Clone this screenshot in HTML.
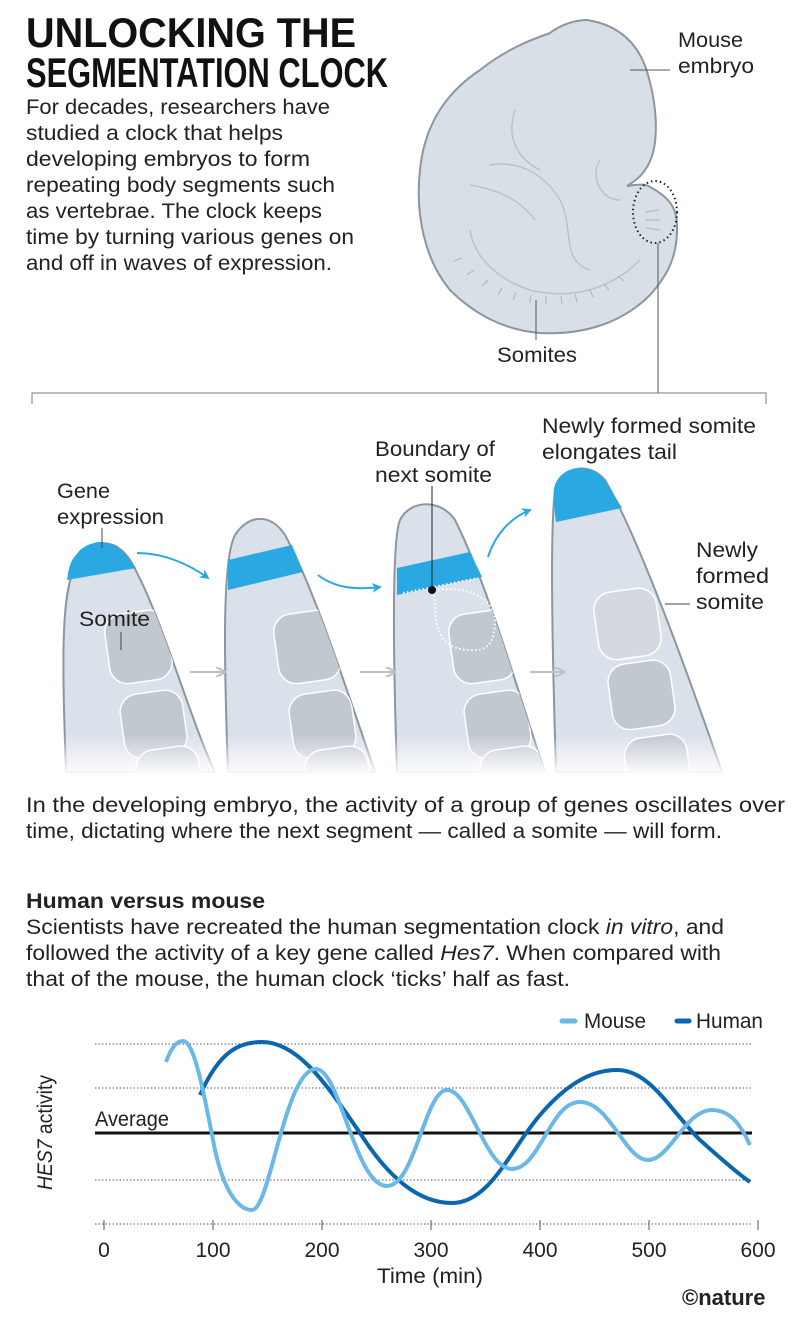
<!DOCTYPE html>
<html><head><meta charset="utf-8"><style>
html,body{margin:0;padding:0;background:#fff;}
svg{display:block;}
text{font-family:"Liberation Sans",sans-serif;fill:#222;}
.t{font-size:21px;}
.ti{font-family:"Liberation Sans Narrow","Liberation Sans",sans-serif;font-weight:bold;font-size:42px;fill:#111;}
</style></head><body>
<svg width="800" height="1322" viewBox="0 0 800 1322" xmlns="http://www.w3.org/2000/svg">
<defs>
<linearGradient id="fade" x1="0" y1="0" x2="0" y2="1">
<stop offset="0" stop-color="#fff" stop-opacity="0"/><stop offset="1" stop-color="#fff" stop-opacity="1"/>
</linearGradient>
<marker id="ab" viewBox="0 0 10 10" refX="8" refY="5" markerWidth="5" markerHeight="5" orient="auto"><path d="M0,0 L10,5 L0,10 L3,5Z" fill="#29a8e0"/></marker>
<marker id="ag" viewBox="0 0 10 10" refX="8" refY="5" markerWidth="5" markerHeight="5" orient="auto"><path d="M0,0 L10,5 L0,10" fill="none" stroke="#b8c0c8" stroke-width="2"/></marker>
<path id="f1" d="M66,772 C62,660 60,580 80,560 C95,538 115,538 130,560 C160,610 190,720 215,772 Z"/>
<path id="f2" d="M228,772 C224,660 222,560 235,535 C248,515 270,512 285,535 C315,590 350,700 375,772 Z"/>
<path id="f3" d="M397,772 C393,650 392,540 400,520 C410,500 440,498 455,520 C490,590 520,700 545,772 Z"/>
<path id="f4" d="M556,772 C552,640 550,530 555,490 C562,465 590,462 605,480 C640,540 690,680 722,772 Z"/>
<clipPath id="c1"><use href="#f1"/></clipPath>
<clipPath id="c2"><use href="#f2"/></clipPath>
<clipPath id="c3"><use href="#f3"/></clipPath>
<clipPath id="c4"><use href="#f4"/></clipPath>
</defs>
<text class="ti" x="26" y="47" textLength="330" lengthAdjust="spacingAndGlyphs">UNLOCKING THE</text>
<text class="ti" x="26" y="87" textLength="362" lengthAdjust="spacingAndGlyphs">SEGMENTATION CLOCK</text>
<text class="t" x="26" y="114" textLength="304" lengthAdjust="spacingAndGlyphs">For decades, researchers have</text>
<text class="t" x="26" y="140" textLength="257" lengthAdjust="spacingAndGlyphs">studied a clock that helps</text>
<text class="t" x="26" y="166" textLength="284" lengthAdjust="spacingAndGlyphs">developing embryos to form</text>
<text class="t" x="26" y="192" textLength="309" lengthAdjust="spacingAndGlyphs">repeating body segments such</text>
<text class="t" x="26" y="218" textLength="296" lengthAdjust="spacingAndGlyphs">as vertebrae. The clock keeps</text>
<text class="t" x="26" y="244" textLength="328" lengthAdjust="spacingAndGlyphs">time by turning various genes on</text>
<text class="t" x="26" y="270" textLength="306" lengthAdjust="spacingAndGlyphs">and off in waves of expression.</text>
<!-- Embryo -->
<path d="M587,20 C620,25 640,45 648,75 C658,110 660,150 645,170 C640,178 632,183 627,186 C635,185 645,183 650,187 C665,195 677,205 677,225 C678,255 668,275 650,295 C620,325 580,335 540,333 C500,330 470,310 450,290 C425,260 415,215 420,170 C425,120 450,90 480,70 C505,50 530,40 550,33 C560,25 575,20 587,20 Z" fill="#d9dfe7" stroke="#8c96a0" stroke-width="2"/>
<g fill="none" stroke="#b9c2cc" stroke-width="1.5">
<path d="M515,110 C505,140 520,160 540,170"/><path d="M490,165 C520,160 545,175 560,200 C575,230 560,260 590,270"/>
<path d="M470,185 C500,190 520,200 535,220"/><path d="M600,160 C590,175 600,200 620,200"/>
<path d="M470,230 C475,260 500,280 530,290 C570,300 610,290 640,260"/>
</g>
<g stroke="#aab3bd" stroke-width="1">
<path d="M462,258 l-8,3 M474,270 l-7,5 M488,280 l-6,6 M502,288 l-4,7 M516,292 l-3,8 M531,295 l-1,8 M546,296 l0,8 M561,296 l1,8 M575,294 l2,8 M590,290 l3,7 M604,284 l5,6 M618,276 l6,5 M645,212 l14,-2 M645,220 l15,0 M646,228 l14,2"/>
</g>
<ellipse cx="655" cy="212" rx="22" ry="31" fill="none" stroke="#222" stroke-width="2" stroke-dasharray="1.5 3"/>
<line x1="630" y1="70" x2="670" y2="70" stroke="#555" stroke-width="1"/>
<text class="t" x="678" y="47" textLength="65" lengthAdjust="spacingAndGlyphs">Mouse</text>
<text class="t" x="678" y="73" textLength="76" lengthAdjust="spacingAndGlyphs">embryo</text>
<line x1="536" y1="300" x2="536" y2="340" stroke="#555" stroke-width="1"/>
<text class="t" x="497" y="362" textLength="80" lengthAdjust="spacingAndGlyphs">Somites</text>
<line x1="658" y1="243" x2="658" y2="393" stroke="#555" stroke-width="1"/>
<path d="M32,404 V393 H766 V404" fill="none" stroke="#777" stroke-width="1"/>
<g stroke="#8c96a0" stroke-width="2" fill="#dbe1ea">
<use href="#f1"/><use href="#f2"/><use href="#f3"/><use href="#f4"/>
</g>
<path d="M67,580 C70,560 72,560 80,550 C95,538 115,538 130,560 L136,568 Z" fill="#2aa8e2"/>
<path d="M228,560 L292,545 L303,572 L228,590 Z" fill="#2aa8e2"/>
<path d="M397,568 L470,552 L482,577 L397,595 Z" fill="#2aa8e2"/>
<path d="M556,522 C553,500 553,490 555,485 C562,465 590,462 605,480 L622,508 Z" fill="#2aa8e2"/>
<g fill="#c1c8d0" stroke="#fff" stroke-width="1.5">
<g clip-path="url(#c1)">
<rect x="107" y="612" width="63" height="70" rx="18" transform="rotate(-8 138 647)"/>
<rect x="122" y="692" width="63" height="65" rx="18" transform="rotate(-8 153 724)"/>
<rect x="137" y="748" width="63" height="50" rx="18" transform="rotate(-8 168 773)"/>
</g>
<g clip-path="url(#c2)">
<rect x="276" y="612" width="63" height="70" rx="18" transform="rotate(-8 307 647)"/>
<rect x="291" y="692" width="63" height="65" rx="18" transform="rotate(-8 322 724)"/>
<rect x="306" y="748" width="63" height="50" rx="18" transform="rotate(-8 337 773)"/>
</g>
<g clip-path="url(#c3)">
<rect x="451" y="612" width="63" height="70" rx="18" transform="rotate(-8 482 647)"/>
<rect x="466" y="692" width="63" height="65" rx="18" transform="rotate(-8 497 724)"/>
<rect x="481" y="748" width="63" height="50" rx="18" transform="rotate(-8 512 773)"/>
</g>
<g clip-path="url(#c4)">
<rect x="596" y="590" width="63" height="68" rx="18" fill="#d4d9df" transform="rotate(-8 627 624)"/>
<rect x="610" y="662" width="63" height="66" rx="18" transform="rotate(-8 641 695)"/>
<rect x="626" y="736" width="63" height="60" rx="18" transform="rotate(-8 657 766)"/>
</g>
</g>
<path d="M403,593 L478,578 M434,590 C470,585 495,600 495,620 C495,640 490,652 470,650 C450,650 440,640 436,620 Z" fill="none" stroke="#fff" stroke-width="2" stroke-dasharray="1.5 2.5"/>
<rect x="40" y="735" width="720" height="41" fill="url(#fade)"/>
<g fill="none" stroke="#29a8e0" stroke-width="2">
<path d="M137,553 C165,553 190,565 208,578" marker-end="url(#ab)"/>
<path d="M318,575 C335,588 355,590 380,587" marker-end="url(#ab)"/>
<path d="M488,557 C495,535 510,518 530,510" marker-end="url(#ab)"/>
</g>
<g stroke="#b8c0c8" stroke-width="2" fill="none">
<path d="M190,672 H224" marker-end="url(#ag)"/><path d="M360,672 H394" marker-end="url(#ag)"/><path d="M530,672 H563" marker-end="url(#ag)"/>
</g>
<line x1="102" y1="528" x2="102" y2="548" stroke="#444" stroke-width="1"/>
<text class="t" x="57" y="498" textLength="53" lengthAdjust="spacingAndGlyphs">Gene</text><text class="t" x="57" y="524" textLength="107" lengthAdjust="spacingAndGlyphs">expression</text>
<text class="t" x="79" y="626" textLength="71" lengthAdjust="spacingAndGlyphs">Somite</text>
<line x1="121" y1="632" x2="121" y2="650" stroke="#444" stroke-width="1"/>
<line x1="432" y1="486" x2="432" y2="590" stroke="#222" stroke-width="1"/>
<circle cx="432" cy="590" r="4" fill="#111"/>
<text class="t" x="375" y="456" textLength="120" lengthAdjust="spacingAndGlyphs">Boundary of</text><text class="t" x="375" y="482" textLength="117" lengthAdjust="spacingAndGlyphs">next somite</text>
<text class="t" x="542" y="433" textLength="214" lengthAdjust="spacingAndGlyphs">Newly formed somite</text><text class="t" x="542" y="459" textLength="135" lengthAdjust="spacingAndGlyphs">elongates tail</text>
<text class="t" x="696" y="557" textLength="62" lengthAdjust="spacingAndGlyphs">Newly</text><text class="t" x="696" y="583" textLength="73" lengthAdjust="spacingAndGlyphs">formed</text><text class="t" x="696" y="609" textLength="68" lengthAdjust="spacingAndGlyphs">somite</text>
<line x1="665" y1="604" x2="690" y2="604" stroke="#444" stroke-width="1"/>
<text class="t" x="26" y="812" textLength="759" lengthAdjust="spacingAndGlyphs">In the developing embryo, the activity of a group of genes oscillates over</text>
<text class="t" x="26" y="838" textLength="696" lengthAdjust="spacingAndGlyphs">time, dictating where the next segment — called a somite — will form.</text>
<text class="t" x="26" y="908" font-weight="bold" textLength="239" lengthAdjust="spacingAndGlyphs">Human versus mouse</text>
<text class="t" x="26" y="934" textLength="698" lengthAdjust="spacingAndGlyphs">Scientists have recreated the human segmentation clock <tspan font-style="italic">in vitro</tspan>, and</text>
<text class="t" x="26" y="960" textLength="695" lengthAdjust="spacingAndGlyphs">followed the activity of a key gene called <tspan font-style="italic">Hes7</tspan>. When compared with</text>
<text class="t" x="26" y="986" textLength="544" lengthAdjust="spacingAndGlyphs">that of the mouse, the human clock ‘ticks’ half as fast.</text>
<line x1="562" y1="1021" x2="575" y2="1021" stroke="#6bb7e6" stroke-width="5" stroke-linecap="round"/>
<text class="t" x="584" y="1028" textLength="62" lengthAdjust="spacingAndGlyphs">Mouse</text>
<line x1="677" y1="1021" x2="689" y2="1021" stroke="#0a66b0" stroke-width="5" stroke-linecap="round"/>
<text class="t" x="696" y="1028" textLength="67" lengthAdjust="spacingAndGlyphs">Human</text>
<g stroke="#555" stroke-width="1" stroke-dasharray="1.5 2">
<line x1="95" y1="1044" x2="752" y2="1044"/><line x1="95" y1="1088" x2="752" y2="1088"/>
<line x1="95" y1="1180" x2="752" y2="1180"/><line x1="95" y1="1224" x2="752" y2="1224"/>
</g>
<g stroke="#555" stroke-width="1">
<path d="M104,1220 v10 M213,1220 v10 M322,1220 v10 M431,1220 v10 M540,1220 v10 M649,1220 v10 M758,1220 v10"/>
</g>
<line x1="95" y1="1133" x2="752" y2="1133" stroke="#111" stroke-width="3"/>
<text class="t" x="95" y="1126" textLength="74" lengthAdjust="spacingAndGlyphs">Average</text>
<text class="t" transform="translate(52,1190) rotate(-90)" textLength="115" lengthAdjust="spacingAndGlyphs"><tspan font-style="italic">HES7</tspan> activity</text>
<path d="M200,1095 C220,1050 240,1042 262,1042 C300,1042 330,1090 360,1133 C390,1180 420,1203 452,1203 C490,1203 510,1150 540,1115 C570,1080 595,1070 617,1070 C650,1070 670,1110 700,1140 C720,1158 740,1175 750,1182" fill="none" stroke="#0a66b0" stroke-width="4"/>
<path d="M166,1062 C172,1045 178,1041 183,1041 C195,1041 205,1100 215,1150 C225,1195 240,1210 252,1210 C270,1210 285,1069 316,1069 C340,1069 355,1186 387,1186 C415,1186 425,1090 447,1090 C470,1090 485,1169 512,1169 C540,1169 550,1102 580,1102 C610,1102 625,1160 648,1160 C670,1160 685,1110 712,1110 C735,1110 745,1135 750,1145" fill="none" stroke="#6bb7e6" stroke-width="4"/>
<text class="t" x="104" y="1257" text-anchor="middle">0</text>
<text class="t" x="213" y="1257" text-anchor="middle">100</text>
<text class="t" x="322" y="1257" text-anchor="middle">200</text>
<text class="t" x="431" y="1257" text-anchor="middle">300</text>
<text class="t" x="540" y="1257" text-anchor="middle">400</text>
<text class="t" x="649" y="1257" text-anchor="middle">500</text>
<text class="t" x="758" y="1257" text-anchor="middle">600</text>
<text class="t" x="377" y="1283" textLength="106" lengthAdjust="spacingAndGlyphs">Time (min)</text>
<text x="682" y="1305" font-family="Liberation Sans Narrow, Liberation Sans, sans-serif" font-weight="bold" font-size="22" fill="#aaa">©nature</text>
</svg>
</body></html>
